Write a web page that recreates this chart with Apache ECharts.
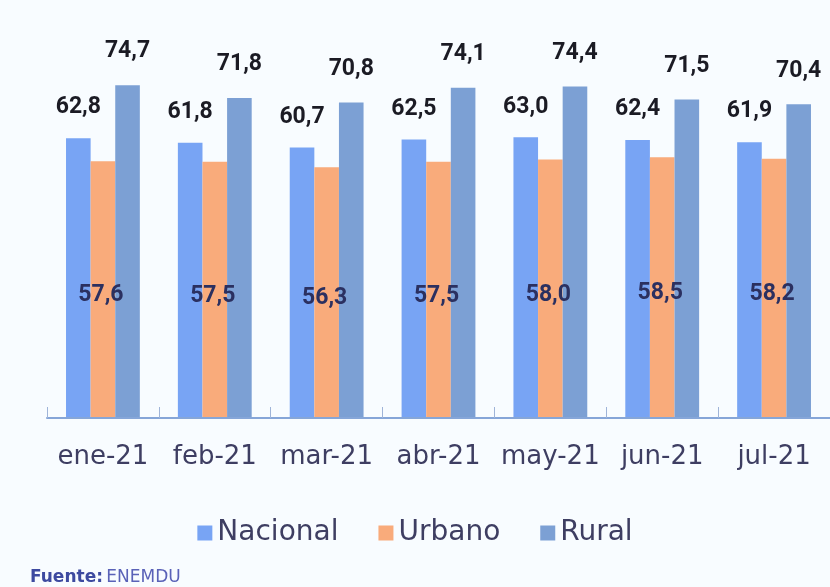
<!DOCTYPE html>
<html>
<head>
<meta charset="utf-8">
<script src="https://cdn.jsdelivr.net/npm/echarts@6/dist/echarts.min.js"></script>
<style>
    html, body { margin: 0; padding: 0; background: #f8fcff; }
    #chart { width: 830px; height: 587px; }
</style>
</head>
<body>
<div id="chart"></div>
<script>
const categories = ['ene-21', 'feb-21', 'mar-21', 'abr-21', 'may-21', 'jun-21', 'jul-21'];
const nacional = [62.8, 61.8, 60.7, 62.5, 63.0, 62.4, 61.9];
const urbano = [57.6, 57.5, 56.3, 57.5, 58.0, 58.5, 58.2];
const rural = [74.7, 71.8, 70.8, 74.1, 74.4, 71.5, 70.4];

const fmt = (p) => p.value.toFixed(1).replace('.', ',');

function topLabel(dist) {
    return {
        show: true,
        position: 'top',
        distance: dist,
        formatter: fmt,
        color: '#1b1b24',
        fontFamily: 'Roboto',
        fontWeight: 'bold',
        fontSize: 23
    };
}

const chart = echarts.init(document.getElementById('chart'));
chart.setOption({
    backgroundColor: '#f8fcff',
    animation: false,
    grid: {
        left: 47,
        right: -4,
        top: 17,
        bottom: 169
    },
    legend: {
        bottom: 35,
        left: 'center',
        itemWidth: 15,
        itemHeight: 15,
        itemGap: 40,
        icon: 'rect',
        textStyle: {
            color: '#3e3e62',
            fontFamily: 'DejaVu Sans',
            fontSize: 28
        }
    },
    xAxis: {
        type: 'category',
        data: categories,
        z: 5,
        axisLine: { lineStyle: { color: '#86a6d8', width: 2 } },
        axisTick: { show: true, inside: true, length: 11, lineStyle: { color: '#9fb4d8', width: 1 } },
        axisLabel: {
            interval: 0,
            color: '#3e3e62',
            fontFamily: 'DejaVu Sans',
            fontSize: 26,
            margin: 26
        }
    },
    yAxis: {
        type: 'value',
        min: 0,
        max: 90,
        show: false
    },
    series: [
        {
            name: 'Nacional',
            type: 'bar',
            data: nacional,
            barGap: '0%',
            barCategoryGap: '34%',
            itemStyle: { color: '#78a4f4' },
            label: topLabel(19)
        },
        {
            name: 'Urbano',
            type: 'bar',
            data: urbano,
            itemStyle: { color: '#f9ab7b' },
            label: {
                show: true,
                position: 'inside',
                offset: [-2, 6],
                formatter: fmt,
                color: '#2b3060',
                fontFamily: 'Roboto',
                fontWeight: 'bold',
                fontSize: 23
            }
        },
        {
            name: 'Rural',
            type: 'bar',
            data: rural,
            itemStyle: { color: '#7ca0d4' },
            label: topLabel(22)
        }
    ],
    graphic: [
        {
            type: 'text',
            left: 30,
            top: 569,
            style: {
                rich: {
                    b: { fontFamily: 'DejaVu Sans', fontWeight: 'bold', fontSize: 17, fill: '#3d4aa0' },
                    n: { fontFamily: 'DejaVu Sans', fontSize: 17, fill: '#5a62b8' }
                },
                text: '{b|Fuente:} {n|ENEMDU}'
            }
        }
    ]
});
</script>
</body>
</html>
